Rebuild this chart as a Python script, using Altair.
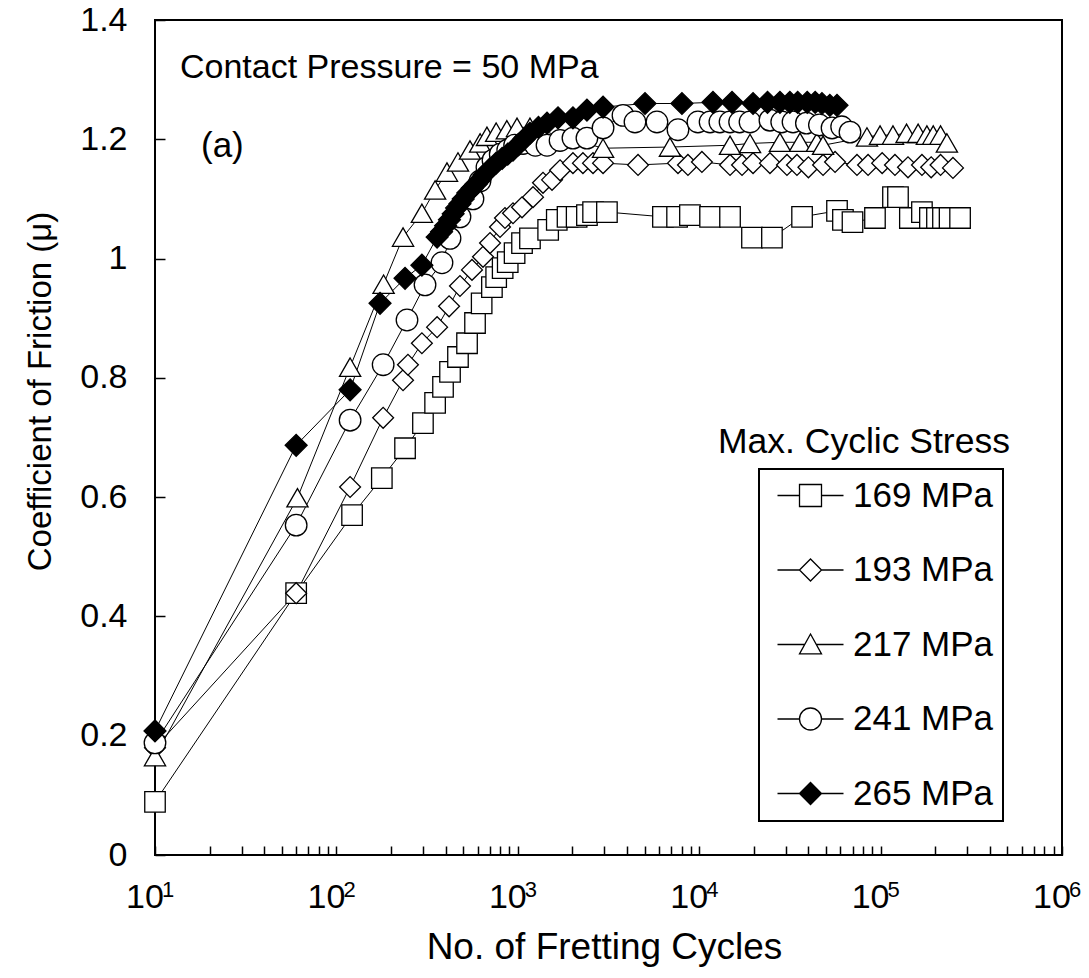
import altair as alt
import pandas as pd

FONT = "Liberation Sans"

series_names = ["169 MPa", "193 MPa", "217 MPa", "241 MPa", "265 MPa"]

cycles_169 = [10, 60, 122, 178, 239, 300, 350, 387, 423, 468, 525, 581, 632, 720, 760, 825, 880, 960,
              1055, 1167, 1470, 1640, 1880, 2110, 2405, 2600, 3100, 6310, 7550, 8890, 11480, 14790,
              19540, 25180, 36900, 57500, 62000, 70000, 93100, 117000, 124700, 145000, 169000, 187000,
              204500, 220700, 240000, 274200]
mu_169 = [0.089, 0.439, 0.570, 0.632, 0.682, 0.724, 0.758, 0.785, 0.810, 0.835, 0.858, 0.892, 0.925, 0.952,
          0.969, 0.984, 0.994, 1.009, 1.026, 1.034, 1.048, 1.065, 1.070, 1.070, 1.073, 1.078, 1.078, 1.070,
          1.070, 1.073, 1.070, 1.070, 1.035, 1.035, 1.070, 1.080, 1.065, 1.061, 1.068, 1.103, 1.103, 1.068,
          1.078, 1.068, 1.068, 1.068, 1.068, 1.068]

cycles_193 = [10, 60, 119, 181, 233, 248, 296, 359, 418, 480, 559, 643, 703, 798, 850, 941, 1055, 1213,
              1377, 1544, 1710, 2014, 2286, 2598, 2951, 4600, 7640, 8670, 10350, 14790, 17220, 19810,
              24550, 30470, 34590, 40000, 48170, 56100, 74100, 85300, 102000, 120000, 141600, 169000,
              190000, 214000, 250600]
mu_193 = [0.180, 0.439, 0.617, 0.733, 0.796, 0.822, 0.858, 0.885, 0.920, 0.954, 0.981, 1.003, 1.026, 1.053,
          1.068, 1.076, 1.086, 1.103, 1.127, 1.132, 1.148, 1.160, 1.160, 1.160, 1.160, 1.157, 1.160, 1.157,
          1.162, 1.157, 1.157, 1.160, 1.160, 1.157, 1.157, 1.153, 1.157, 1.162, 1.157, 1.157, 1.160, 1.157,
          1.153, 1.157, 1.153, 1.157, 1.152]

cycles_217 = [10, 61, 119, 182, 233, 296, 350, 407, 468, 545, 620, 676, 760, 870, 990, 1167, 2951, 6900,
              14790, 19060, 27870, 35940, 44580, 48170, 84100, 99300, 117000, 139000, 161000, 180000,
              195000, 214000, 232000]
mu_217 = [0.165, 0.599, 0.818, 0.957, 1.036, 1.076, 1.115, 1.145, 1.162, 1.182, 1.194, 1.205, 1.212, 1.216,
          1.220, 1.220, 1.185, 1.187, 1.190, 1.193, 1.195, 1.195, 1.195, 1.190, 1.204, 1.207, 1.207, 1.210,
          1.210, 1.207, 1.207, 1.207, 1.194]

cycles_241 = [10, 60, 119, 181, 245, 308, 382, 423, 480, 566, 619, 676, 730, 800, 880, 960, 1069, 1250,
              1449, 1710, 2014, 2405, 2951, 3801, 4426, 5850, 7640, 9840, 11480, 13000, 14790, 16700,
              19060, 24550, 28500, 32900, 39000, 46000, 54000, 61000, 67800]
mu_241 = [0.188, 0.553, 0.729, 0.822, 0.897, 0.956, 0.993, 1.034, 1.070, 1.100, 1.130, 1.153, 1.165, 1.175,
          1.182, 1.190, 1.193, 1.190, 1.190, 1.198, 1.202, 1.202, 1.219, 1.240, 1.229, 1.229, 1.216, 1.229,
          1.229, 1.229, 1.229, 1.229, 1.229, 1.232, 1.229, 1.229, 1.227, 1.224, 1.219, 1.221, 1.212]

cycles_265 = [10, 60, 119, 174, 239, 296, 359, 380, 400, 420, 440, 460, 480, 500, 530, 560, 590, 620, 650,
              700, 760, 820, 880, 941, 1000, 1080, 1167, 1300, 1449, 1666, 2014, 2405, 2951, 5027, 8033,
              11910, 15170, 19810, 23800, 27870, 31600, 34900, 39400, 43600, 47500, 52500, 57500]
mu_265 = [0.208, 0.687, 0.780, 0.925, 0.967, 0.989, 1.036, 1.045, 1.055, 1.065, 1.075, 1.085, 1.092, 1.100,
          1.110, 1.118, 1.125, 1.132, 1.140, 1.150, 1.160, 1.168, 1.175, 1.182, 1.190, 1.200, 1.210, 1.220,
          1.227, 1.236, 1.236, 1.249, 1.254, 1.260, 1.260, 1.262, 1.262, 1.260, 1.262, 1.262, 1.262, 1.262,
          1.262, 1.262, 1.260, 1.257, 1.257]

decades = [10, 100, 1000, 10000, 100000, 1000000]
decade_base = ["10", "10", "10", "10", "10", "10"]
decade_sup = ["1", "2", "3", "4", "5", "6"]
y_ticks = [0, 0.2, 0.4, 0.6, 0.8, 1.0, 1.2, 1.4]

rows = []
for name, xs, ys in zip(series_names,
                        [cycles_169, cycles_193, cycles_217, cycles_241, cycles_265],
                        [mu_169, mu_193, mu_217, mu_241, mu_265]):
    for n, m in zip(xs, ys):
        rows.append({"series": name, "cycles": n, "mu": m})
df = pd.DataFrame(rows)

x_ticks = []
for d in decades[:-1]:
    x_ticks += [d * k for k in range(1, 10)]
x_ticks.append(decades[-1])

x_scale = alt.Scale(type="log", domain=[10, 1000000], nice=False)
y_scale = alt.Scale(domain=[0, 1.4], nice=False, zero=False)

x_axis = alt.Axis(values=x_ticks, labels=False,
                  tickSize=9, offset=-9, domain=False, grid=False,
                  tickColor="black", tickWidth=1.5,
                  title="No. of Fretting Cycles", titleFont=FONT, titleFontSize=37,
                  titleFontWeight="normal", titleColor="black", titleX=449, titleY=112,
                  titleAlign="center", titleBaseline="alphabetic")
y_axis = alt.Axis(values=y_ticks, format="~g", tickSize=10, offset=-10, domain=False, grid=False,
                  labelPadding=28, labelFlush=False, labelFont=FONT, labelFontSize=34,
                  labelColor="black", tickColor="black", tickWidth=1.5,
                  title="Coefficient of Friction (μ)", titleFont=FONT, titleFontSize=33,
                  titleFontWeight="normal", titleColor="black", titleAngle=270,
                  titleX=-125, titleY=371, titleAlign="center", titleBaseline="middle")

X = alt.X("cycles:Q", scale=x_scale, axis=x_axis)
Y = alt.Y("mu:Q", scale=y_scale, axis=y_axis)

lines = alt.Chart(df).mark_line(color="black", strokeWidth=1).encode(
    x=X, y=Y, detail="series:N", order="cycles:Q")

points = alt.Chart(df).mark_point(filled=True, stroke="black", strokeWidth=1.3, opacity=1).encode(
    x=X, y=Y,
    shape=alt.Shape("series:N", scale=alt.Scale(domain=series_names,
                    range=["square", "diamond", "triangle-up", "circle", "diamond"]), legend=None),
    fill=alt.Fill("series:N", scale=alt.Scale(domain=series_names,
                  range=["white", "white", "white", "white", "black"]), legend=None),
    size=alt.Size("series:N", scale=alt.Scale(domain=series_names,
                  range=[420, 480, 430, 480, 480]), legend=None),
)

legend_paths = [
    "M-3,0H-1M1,0H3M-1,-1H1V1H-1Z",
    "M-3,0H-1M1,0H3M-1,0L0,-1L1,0L0,1Z",
    "M-3,0H-0.5M0.5,0H3M0,-0.95L1,0.85H-1Z",
    "M-3,0H-1M1,0H3M1,0A1,1,0,1,1,-1,0A1,1,0,1,1,1,0Z",
    "M-3,0H-1M1,0H3M-1,0L0,-1L1,0L0,1Z",
]
leg = alt.Legend(orient="none", legendX=604, legendY=449, title=None,
                 labelFont=FONT, labelFontSize=35, labelColor="black", labelLimit=400,
                 labelExpr="datum.label + ' '",
                 symbolSize=484, symbolStrokeWidth=1.3, symbolStrokeColor="black",
                 rowPadding=38.5, padding=9, strokeColor="black", labelOffset=25, symbolOffset=25)

legend_layer = alt.Chart(df).transform_filter("false").mark_point(
    filled=True, stroke="black", strokeWidth=1.3, opacity=1).encode(
    x=X, y=Y,
    shape=alt.Shape("series:N", scale=alt.Scale(domain=series_names, range=legend_paths), legend=leg),
    fill=alt.Fill("series:N", scale=alt.Scale(domain=series_names,
                  range=["white", "white", "white", "white", "black"]), legend=leg),
    stroke=alt.Stroke("series:N", scale=alt.Scale(domain=series_names,
                      range=["black", "black", "black", "black", "black"]), legend=leg),
)

dec_df = pd.DataFrame({"cycles": decades, "base": decade_base, "sup": decade_sup})
bases = alt.Chart(dec_df).mark_text(font=FONT, fontSize=34, align="center", baseline="alphabetic",
                                    dx=-10, color="black").encode(
    x=alt.X("cycles:Q", scale=x_scale), y=alt.value(888), text="base:N")
sups = alt.Chart(dec_df).mark_text(font=FONT, fontSize=22, align="left", baseline="alphabetic",
                                   dx=7, color="black").encode(
    x=alt.X("cycles:Q", scale=x_scale), y=alt.value(877), text="sup:N")

note_df = pd.DataFrame({"t": ["Contact Pressure = 50 MPa"]})
note = alt.Chart(note_df).mark_text(font=FONT, fontSize=34, align="left", baseline="middle",
                                    color="black").encode(
    x=alt.value(25), y=alt.value(48), text="t:N")

tag_df = pd.DataFrame({"t": ["(a)"]})
tag = alt.Chart(tag_df).mark_text(font=FONT, fontSize=35, align="left", baseline="middle",
                                  color="black").encode(
    x=alt.value(46), y=alt.value(126), text="t:N")

lt_df = pd.DataFrame({"t": ["Max. Cyclic Stress"]})
legend_title = alt.Chart(lt_df).mark_text(font=FONT, fontSize=35.5, align="left", baseline="middle",
                                          color="black").encode(
    x=alt.value(563), y=alt.value(422), text="t:N")

chart = alt.layer(lines, points, legend_layer, bases, sups, note, tag, legend_title).resolve_scale(
    shape="independent", fill="independent", size="independent", stroke="independent"
).properties(
    width=907, height=835,
    padding={"left": 147, "top": 12, "right": 19, "bottom": 115},
    autosize=alt.AutoSizeParams(type="none"),
    background="white",
).configure_view(
    stroke="black", strokeWidth=2
).configure_legend(
    strokeWidth=2
)

chart.save("out.html", embed_options={"renderer": "svg", "actions": False})
